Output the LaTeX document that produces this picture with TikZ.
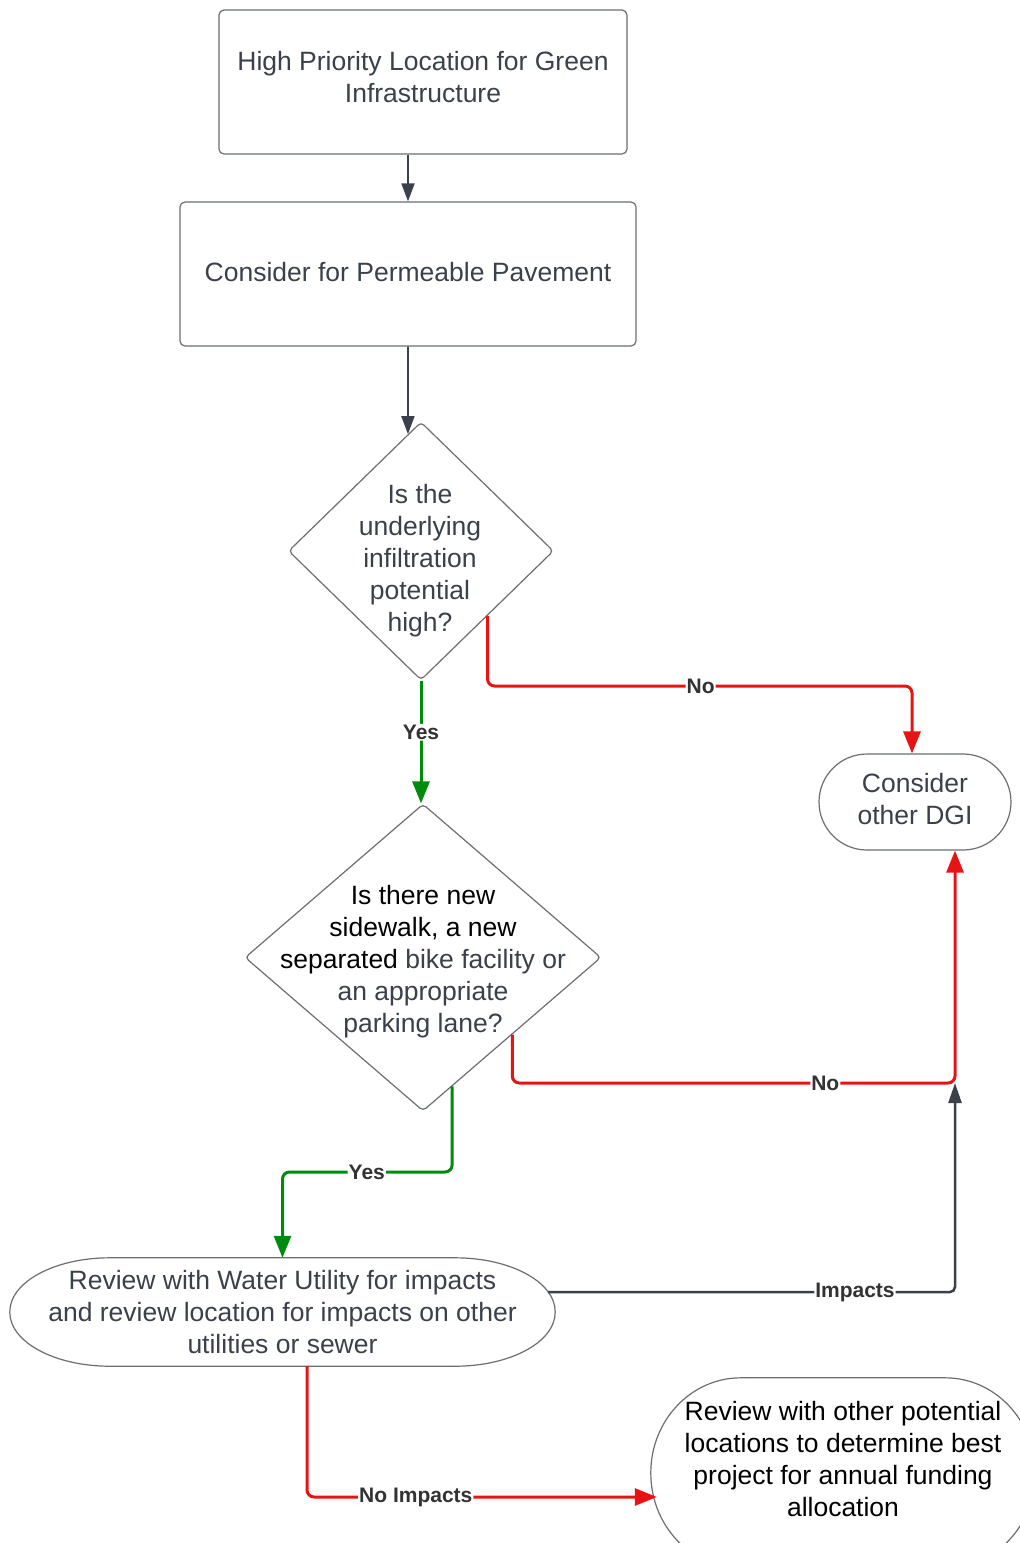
\documentclass[tikz,border=0pt]{standalone}
\usepackage{fontspec}
\setmainfont{Liberation Sans}
\usetikzlibrary{arrows.meta,shapes.geometric,calc}
\definecolor{txt}{HTML}{3A414A}
\definecolor{edgec}{HTML}{3A414A}
\definecolor{bord}{HTML}{6B6F73}
\definecolor{nored}{HTML}{E81313}
\definecolor{yesgreen}{HTML}{008A0E}
\definecolor{lbltxt}{HTML}{333333}
\tikzset{
  base/.style={font=\fontsize{26.5}{32}\selectfont, text=txt, align=center, inner sep=0pt},
  boxnode/.style={base, draw=bord, line width=1.2pt, rectangle, rounded corners=5pt},
  plainshape/.style={base, rectangle},
  dshape/.style={draw=bord, line width=1.2pt, diamond, rounded corners=4pt, inner sep=0pt},
  shapeline/.style={draw=bord, line width=1.2pt},
  conn/.style={draw=edgec, line width=1.8pt, -{Triangle[length=18pt,width=13pt]}},
  impconn/.style={draw=edgec, line width=2.5pt, rounded corners=5pt, -{Triangle[length=20pt,width=13pt]}},
  rconn/.style={draw=nored, line width=3pt, rounded corners=7pt, -{Triangle[length=22pt,width=17pt]}},
  gconn/.style={draw=yesgreen, line width=3pt, rounded corners=7pt, -{Triangle[length=22pt,width=17pt]}},
  lbl/.style={font=\fontsize{21}{24}\selectfont\bfseries, text=lbltxt, fill=white, inner sep=1pt}
}
\newcommand{\eboxdraw}[3]{%
  \draw[shapeline] ([xshift=#2pt]#1.north west) -- ([xshift=-#2pt]#1.north east)
    arc[start angle=90,end angle=0,x radius=#2pt,y radius=#3pt]
    -- ([yshift=#3pt]#1.south east)
    arc[start angle=0,end angle=-90,x radius=#2pt,y radius=#3pt]
    -- ([xshift=#2pt]#1.south west)
    arc[start angle=270,end angle=180,x radius=#2pt,y radius=#3pt]
    -- ([yshift=-#3pt]#1.north west)
    arc[start angle=180,end angle=90,x radius=#2pt,y radius=#3pt] -- cycle;}
\begin{document}
\begin{tikzpicture}[x=1pt,y=1pt]
\clip (0,0) rectangle (1020,-1543);
\fill[white] (0,0) rectangle (1020,-1543);

% nodes
\node[boxnode, minimum width=408pt, minimum height=144pt] (hp) at (423,-82) {High Priority Location for Green\\Infrastructure\strut};
\node[boxnode, minimum width=456pt, minimum height=144pt] (pp) at (408,-274) {Consider for Permeable Pavement\rule[-4pt]{0pt}{4pt}};
\node[dshape, minimum width=265pt, minimum height=258pt] (d1) at (421,-551) {};
\node[base] (d1t) at (420,-561) {Is the\\underlying\\infiltration\\potential\\high?};
\node[boxnode, rounded corners=48pt, minimum width=192pt, minimum height=96pt] (dgi) at (915,-802) {Consider\\other DGI\rule[-6pt]{0pt}{6pt}};
\node[dshape, minimum width=356pt, minimum height=307pt] (d2) at (423,-957.5) {};
\node[base] (d2t) at (423,-962) {\textcolor{black}{Is there new}\\\textcolor{black}{sidewalk, a new}\\\textcolor{black}{separated} bike facility or\\an appropriate\\parking lane?};
\node[plainshape, minimum width=545pt, minimum height=108pt] (rev) at (282.5,-1312) {Review with Water Utility for impacts\\and review location for impacts on other\\utilities or sewer};
\eboxdraw{rev}{100}{54}
\node[plainshape, minimum width=384pt, minimum height=190pt] (fin) at (843,-1473) {};
\eboxdraw{fin}{90}{95}
\node[base, text=black] (fint) at (843,-1459) {Review with other potential\\locations to determine best\\project for annual funding\\allocation};

% helper coordinates
\coordinate (d1in) at ($(d1.north)!0.098!(d1.west)$);
\coordinate (d1o) at ($(d1.east)!0.5!(d1.south)$);
\coordinate (r1y) at (0,-686);
\coordinate (dgiin) at ($(dgi.north)+(-3,0)$);
\coordinate (d2o) at ($(d2.east)!0.5!(d2.south)$);
\coordinate (jn) at (955,-1083);
\coordinate (revo) at ($(rev.east)+(-7,20)$);
\coordinate (d2y) at ($(d2.east)!0.837!(d2.south)$);
\coordinate (g2y) at (0,-1172);
\coordinate (revb) at ($(rev.south)+(24.5,0)$);
\coordinate (r3y) at (0,-1497);
\coordinate (finin) at ($(fin.west |- r3y)+(6,0)$);

% connectors
\draw[conn] (pp.north |- hp.south) -- (pp.north);
\draw[conn] (pp.south) -- (d1in);
\draw[rconn] (d1o) -- (d1o |- r1y) -- node[lbl,pos=0.502]{No} (dgiin |- r1y) -- (dgiin);
\draw[gconn] (d1.south) -- node[lbl,pos=0.42]{Yes} (d1.south |- d2.north);
\draw[impconn] (revo) -- node[lbl,pos=0.754]{Impacts} (revo -| jn) -- (jn);
\draw[rconn] (d2o) -- (d2o |- jn) -- node[lbl,pos=0.707]{No} (jn) -- (jn |- dgi.south);
\draw[gconn] (d2y) -- (d2y |- g2y) -- node[lbl,pos=0.503]{Yes} (rev.north |- g2y) -- (rev.north);
\draw[rconn] (revb) -- (revb |- r3y) -- node[lbl,pos=0.311]{No Impacts} (finin);
\end{tikzpicture}
\end{document}
